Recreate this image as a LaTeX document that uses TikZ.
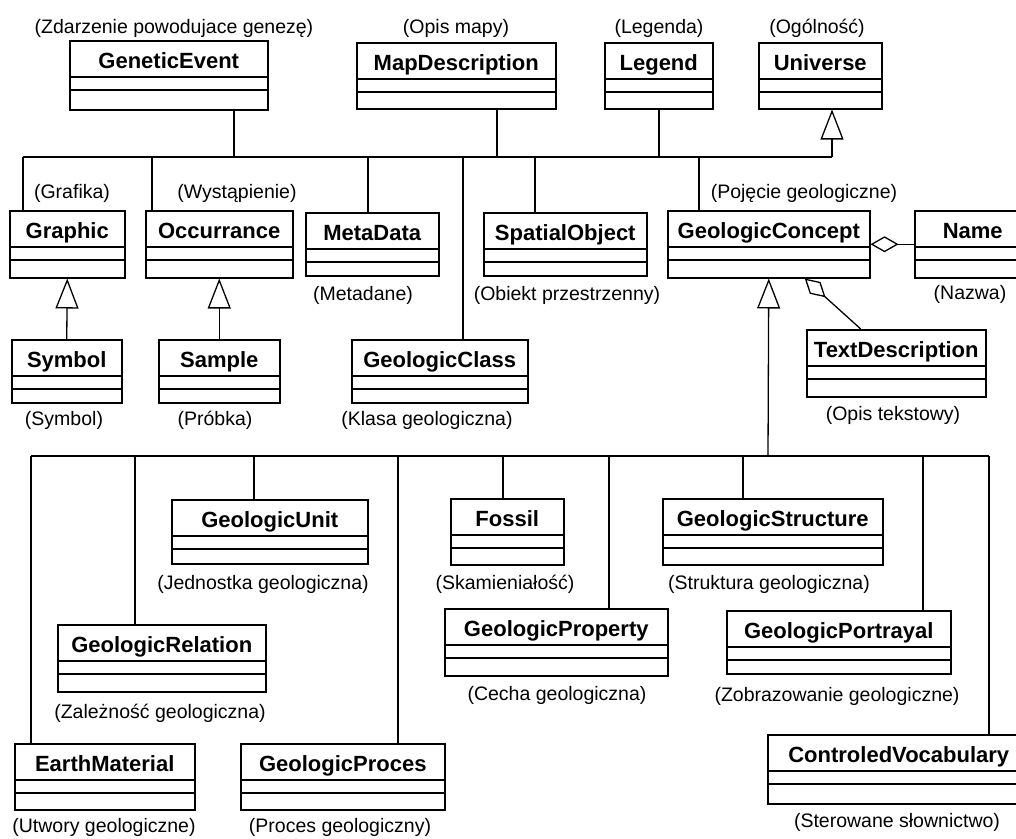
\documentclass[tikz,border=0pt]{standalone}
\usepackage{fontspec}
\setmainfont{Liberation Sans}
\usetikzlibrary{arrows.meta,calc}

% UML class: name, left, top, width, height, title
\newcommand\umlclass[6]{%
  \node[classbox, minimum width=#4pt, minimum height=#5pt, anchor=north west] (#1) at (#2,#3) {};
  \draw[seprule] ([yshift=-37pt]#1.north west) -- ([yshift=-37pt]#1.north east);
  \draw[seprule] ([yshift=-50pt]#1.north west) -- ([yshift=-50pt]#1.north east);
  \node[classtitle, anchor=base] (#1-t) at ([yshift=-28pt]#1.north) {#6};
}

\begin{document}
\begin{tikzpicture}[x=1pt, y=-1pt,
  classbox/.style={draw, line width=1.5pt, inner sep=0pt, fill=white},
  seprule/.style={line width=1.1pt},
  classtitle/.style={font=\fontsize{22}{24}\selectfont\bfseries, inner sep=0pt},
  note/.style={font=\fontsize{19.5}{22}\selectfont, inner sep=0pt, yshift=-2pt},
  link/.style={line width=1.3pt},
  inherit/.style={link, -{Triangle[open, length=30pt, width=23pt, line width=1.3pt]}},
  aggr/.style={link, -{Diamond[open, length=28pt, width=16pt, line width=1.3pt]}}
]
\useasboundingbox (0,0) rectangle (1016,838);

% ---- top row of classes
\umlclass{ge}{69}{40}{198}{69}{GeneticEvent}
\umlclass{md}{356}{42}{199}{66}{MapDescription}
\umlclass{lg}{604}{42}{108}{66}{Legend}
\umlclass{un}{758}{42}{123}{66}{Universe}

% ---- second row
\umlclass{gr}{9}{210}{115}{67}{Graphic}
\umlclass{oc}{145}{210}{147}{67}{Occurrance}
\umlclass{meta}{305}{212}{133}{63}{MetaData}
\umlclass{so}{483}{212}{163}{63}{SpatialObject}
\umlclass{gcon}{667}{210}{202}{67}{GeologicConcept}
\umlclass{nm}{914}{210}{116}{67}{Name}

% ---- third row
\umlclass{sy}{11}{339}{110}{63}{Symbol}
\umlclass{sa}{158}{339}{121}{63}{Sample}
\umlclass{gcl}{351}{339}{176}{63}{GeologicClass}
\umlclass{td}{806}{329}{179}{67}{TextDescription}

% ---- subclasses of GeologicConcept
\umlclass{unit}{171}{499}{196}{64}{GeologicUnit}
\umlclass{fo}{450}{498}{113}{66}{Fossil}
\umlclass{st}{662}{498}{220}{66}{GeologicStructure}
\umlclass{rel}{57}{624}{208}{67}{GeologicRelation}
\umlclass{prop}{444}{608}{223}{67}{GeologicProperty}
\umlclass{port}{726}{610}{224}{63}{GeologicPortrayal}
\umlclass{em}{14}{743}{180}{66}{EarthMaterial}
\umlclass{pr}{240}{743}{204}{66}{GeologicProces}
\umlclass{cv}{767}{734}{262}{69}{ControledVocabulary}

% ---- upper bus
\coordinate (busL) at (23,157);
\coordinate (busR) at (832,157);
\coordinate (jge) at (234,157);
\coordinate (jmd) at (497,157);
\coordinate (jlg) at (659,157);
\coordinate (joc) at (152,157);
\coordinate (jmeta) at (368,157);
\coordinate (jgcl) at (463,157);
\coordinate (jso) at (535,157);
\coordinate (jgcon) at (699,157);

\draw[link] (busL) -- (busR);
\draw[inherit] (busR) -- (busR |- un.south);
\draw[link] (jge) -- (jge |- ge.south);
\draw[link] (jmd) -- (jmd |- md.south);
\draw[link] (jlg) -- (jlg |- lg.south);
\draw[link] (busL) -- (busL |- gr.north);
\draw[link] (joc) -- (joc |- oc.north);
\draw[link] (jmeta) -- (jmeta |- meta.north);
\draw[link] (jgcl) -- (jgcl |- gcl.north);
\draw[link] (jso) -- (jso |- so.north);
\draw[link] (jgcon) -- (jgcon |- gcon.north);

% ---- generalisations and aggregations
\draw[inherit] (sy.north) -- (gr.south);
\draw[inherit] (sa.north) -- (oc.south);
\draw[aggr] (nm.west) -- (gcon.east);
\draw[aggr] ([xshift=-35.5pt]td.north) -- ([xshift=36pt]gcon.south);

% ---- lower bus
\coordinate (lbusL) at (31,456);
\coordinate (lbusR) at (989,456);
\coordinate (lhub) at (768,456);
\coordinate (krel) at (135,456);
\coordinate (kunit) at (254,456);
\coordinate (kpr) at (398,456);
\coordinate (kfo) at (503,456);
\coordinate (kprop) at (609,456);
\coordinate (kst) at (743,456);
\coordinate (kport) at (923,456);

\draw[link] (lbusL) -- (lbusR);
\draw[inherit] (lhub) -- (gcon.south);
\draw[link] (lbusL) -- (lbusL |- em.north);
\draw[link] (krel) -- (krel |- rel.north);
\draw[link] (kunit) -- (kunit |- unit.north);
\draw[link] (kpr) -- (kpr |- pr.north);
\draw[link] (kfo) -- (kfo |- fo.north);
\draw[link] (kprop) -- (kprop |- prop.north);
\draw[link] (kst) -- (kst |- st.north);
\draw[link] (kport) -- (kport |- port.north);
\draw[link] (lbusR) -- (lbusR |- cv.north);

% ---- Polish names
\node[note] (n-ge) at (174,26) {(Zdarzenie powodujace genezę)};
\node[note] (n-md) at (456,26) {(Opis mapy)};
\node[note] (n-lg) at (659,26) {(Legenda)};
\node[note] (n-un) at (817,26) {(Ogólność)};
\node[note] (n-gr) at (72,191) {(Grafika)};
\node[note] (n-oc) at (237,191) {(Wystąpienie)};
\node[note] (n-gcon) at (804,191) {(Pojęcie geologiczne)};
\node[note] (n-meta) at (363,293) {(Metadane)};
\node[note] (n-so) at (567,293) {(Obiekt przestrzenny)};
\node[note] (n-nm) at (970,292) {(Nazwa)};
\node[note] (n-sy) at (64,418) {(Symbol)};
\node[note] (n-sa) at (215,418) {(Próbka)};
\node[note] (n-gcl) at (427,418) {(Klasa geologiczna)};
\node[note] (n-td) at (893,413) {(Opis tekstowy)};
\node[note] (n-unit) at (263,582) {(Jednostka geologiczna)};
\node[note] (n-fo) at (505,582) {(Skamieniałość)};
\node[note] (n-st) at (769,582) {(Struktura geologiczna)};
\node[note] (n-rel) at (160,711) {(Zależność geologiczna)};
\node[note] (n-prop) at (557,693) {(Cecha geologiczna)};
\node[note] (n-port) at (837,694) {(Zobrazowanie geologiczne)};
\node[note] (n-em) at (104,825) {(Utwory geologiczne)};
\node[note] (n-pr) at (340,825) {(Proces geologiczny)};
\node[note] (n-cv) at (897,820) {(Sterowane słownictwo)};
\end{tikzpicture}
\end{document}
